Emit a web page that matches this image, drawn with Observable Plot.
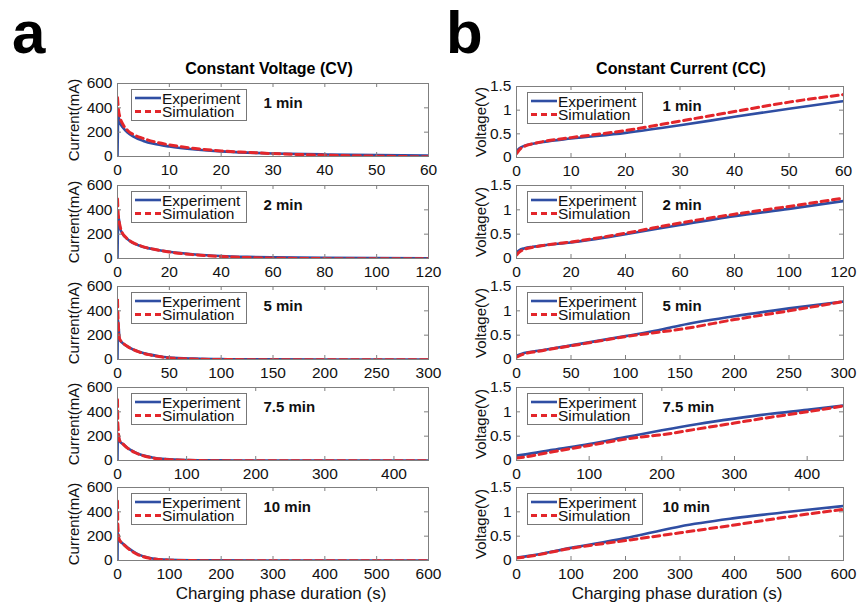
<!DOCTYPE html>
<html><head><meta charset="utf-8">
<script src="https://cdn.jsdelivr.net/npm/d3@7"></script>
<script src="https://cdn.jsdelivr.net/npm/@observablehq/plot@0.6"></script>
<style>
body{margin:0;background:#fff;}
#root{position:relative;width:860px;height:608px;overflow:hidden;font-family:"Liberation Sans",Arial,Helvetica,sans-serif;background:#fff;}
</style></head><body><div id="root"></div>
<script>
// ---------- DATA ----------
const panelLabels = ["1 min", "2 min", "5 min", "7.5 min", "10 min"];
const xMaxes = [60, 120, 300, 450, 600];
const xTicks = [
  [0, 10, 20, 30, 40, 50, 60],
  [0, 20, 40, 60, 80, 100, 120],
  [0, 50, 100, 150, 200, 250, 300],
  [0, 100, 200, 300, 400],
  [0, 100, 200, 300, 400, 500, 600]
];
const currentTicks = [0, 200, 400, 600];
const voltageTicks = [0, 0.5, 1, 1.5];
const voltageTickLabels = ["0", "0.5", "1", "1.5"];

// Constant Voltage (CV): current (mA) vs time (s)
const cv1T   = [0, 0.15, 0.5, 1, 2, 3, 5, 7, 10, 15, 20, 25, 30, 40, 50, 60];
const cv1Exp = [0, 330, 275, 240, 195, 165, 128, 104, 82, 58, 42, 32, 25, 17, 11, 8];
const cv1Sim = [485, 400, 320, 268, 212, 182, 148, 122, 96, 66, 46, 34, 24, 11, 3, -3];

const cv2T   = [0, 0.3, 1, 2, 3, 5, 7, 10, 15, 20, 30, 40, 50, 60, 80, 100, 120];
const cv2Exp = [0, 350, 250, 200, 175, 140, 118, 95, 72, 55, 33, 20, 13, 9, 5, 3, 2];
const cv2Sim = [490, 360, 265, 205, 178, 142, 120, 96, 72, 54, 30, 16, 8, 3, -1, -3, -3];

const cv5T   = [0, 0.5, 2, 5, 10, 15, 20, 30, 40, 50, 75, 100, 150, 200, 250, 300];
const cv5Exp = [0, 330, 165, 135, 105, 82, 66, 42, 27, 17, 7, 3, 1, 0, 0, 0];
const cv5Sim = [490, 340, 170, 138, 105, 82, 64, 40, 24, 13, 3, 0, -2, -2, -2, -2];

const cv75T   = [0, 0.5, 3, 8, 15, 25, 35, 50, 70, 100, 150, 200, 300, 450];
const cv75Exp = [0, 220, 160, 135, 100, 68, 45, 25, 11, 4, 1, 0, 0, 0];
const cv75Sim = [500, 300, 165, 135, 100, 66, 43, 22, 9, 2, -2, -2, -2, -2];

const cv10T   = [0, 0.5, 3, 10, 20, 30, 40, 60, 80, 100, 150, 200, 300, 400, 500, 600];
const cv10Exp = [0, 230, 170, 140, 105, 75, 50, 22, 10, 5, 2, 1, 0, 0, 0, 0];
const cv10Sim = [490, 310, 175, 140, 100, 70, 47, 20, 8, 3, -1, -2, -2, -2, -2, -2];

// Constant Current (CC): voltage (V) vs time (s)
const cc1T   = [0, 0.5, 1.5, 3, 5, 10, 20, 30, 40, 50, 60];
const cc1Exp = [0.12, 0.19, 0.25, 0.29, 0.33, 0.40, 0.52, 0.68, 0.86, 1.03, 1.19];
const cc1Sim = [0.08, 0.16, 0.24, 0.29, 0.34, 0.42, 0.57, 0.77, 0.97, 1.17, 1.33];

const cc2T   = [0, 1, 3, 6, 10, 20, 40, 60, 80, 100, 120];
const cc2Exp = [0.12, 0.17, 0.21, 0.24, 0.27, 0.33, 0.50, 0.69, 0.87, 1.02, 1.18];
const cc2Sim = [0.07, 0.13, 0.19, 0.23, 0.27, 0.34, 0.52, 0.73, 0.91, 1.07, 1.24];

const cc5T   = [0, 5, 20, 50, 100, 130, 150, 200, 250, 300];
const cc5Exp = [0.08, 0.12, 0.18, 0.29, 0.48, 0.60, 0.70, 0.89, 1.05, 1.19];
const cc5Sim = [0.05, 0.10, 0.17, 0.28, 0.47, 0.56, 0.62, 0.82, 1.00, 1.19];

const cc75T   = [0, 10, 50, 100, 150, 175, 200, 250, 300, 350, 400, 450];
const cc75Exp = [0.10, 0.12, 0.22, 0.34, 0.48, 0.55, 0.62, 0.75, 0.86, 0.96, 1.04, 1.13];
const cc75Sim = [0.05, 0.07, 0.18, 0.31, 0.44, 0.49, 0.53, 0.65, 0.77, 0.89, 1.00, 1.12];

const cc10T   = [0, 20, 100, 200, 250, 300, 400, 500, 600];
const cc10Exp = [0.06, 0.09, 0.26, 0.46, 0.58, 0.70, 0.87, 1.00, 1.12];
const cc10Sim = [0.05, 0.08, 0.25, 0.41, 0.49, 0.57, 0.73, 0.90, 1.05];

const cvSeries = [[cv1T, cv1Exp, cv1Sim], [cv2T, cv2Exp, cv2Sim], [cv5T, cv5Exp, cv5Sim], [cv75T, cv75Exp, cv75Sim], [cv10T, cv10Exp, cv10Sim]];
const ccSeries = [[cc1T, cc1Exp, cc1Sim], [cc2T, cc2Exp, cc2Sim], [cc5T, cc5Exp, cc5Sim], [cc75T, cc75Exp, cc75Sim], [cc10T, cc10Exp, cc10Sim]];

// ---------- LAYOUT / STYLE ----------
const FONT = '"Liberation Sans", Arial, Helvetica, sans-serif';
const BLUE = "#2f4ea3";
const RED = "#e3262b";
const GRAY = "#7f7f7f";
const rowTops = [83, 185, 286, 387, 487];
const rowH = 73;
const colLeft = [117, 516];
const colW = [311, 327];

const root = document.getElementById("root");

function place(el, left, top) {
  el.style.position = "absolute";
  el.style.left = left + "px";
  el.style.top = top + "px";
  root.appendChild(el);
}

function panel({left, top, w, h, xMax, ticksX, yDomain, ticksY, yFmt, series, label, ylabel, ylabelOff}) {
  const mL = 70, mR = 22, mT = 10, mB = 30;
  const [t, e, s] = series;
  const expRows = t.map((d, i) => ({t: d, v: e[i]}));
  const simRows = t.map((d, i) => ({t: d, v: s[i]}));
  const chart = Plot.plot({
    width: w + mL + mR, height: h + mT + mB,
    marginLeft: mL, marginRight: mR, marginTop: mT, marginBottom: mB,
    x: {domain: [0, xMax]},
    y: {domain: yDomain},
    style: {background: "none", overflow: "visible", fontFamily: FONT, fontSize: "15.5px", color: "#111"},
    marks: [
      Plot.line(expRows, {x: "t", y: "v", stroke: BLUE, strokeWidth: 2.6, curve: "monotone-x", clip: true}),
      Plot.line(simRows, {x: "t", y: "v", stroke: RED, strokeWidth: 3, strokeDasharray: "7,4.5", curve: "monotone-x", clip: true}),
      Plot.frame({stroke: GRAY, strokeWidth: 1}),
      Plot.ruleX(ticksX, {x: d => d, insetTop: h - 4, stroke: GRAY}),
      Plot.ruleX(ticksX, {x: d => d, insetBottom: h - 4, stroke: GRAY}),
      Plot.ruleY(ticksY, {y: d => d, insetRight: w - 4, stroke: GRAY}),
      Plot.ruleY(ticksY, {y: d => d, insetLeft: w - 4, stroke: GRAY}),
      Plot.axisX(ticksX, {tickSize: 0, tickPadding: 7, fontSize: 15.5, label: null}),
      Plot.axisY(ticksY, {tickSize: 0, tickPadding: 5, fontSize: 15.5, tickFormat: yFmt, label: null}),
      Plot.text([ylabel], {text: d => d, frameAnchor: "left", dx: -ylabelOff, rotate: -90, textAnchor: "middle", lineAnchor: "middle", fontSize: 15, fill: "#111"}),
      Plot.text([label], {text: d => d, frameAnchor: "top-left", dx: 146, dy: 14, textAnchor: "start", fontWeight: "bold", fontSize: 15, fill: "#111"})
    ]
  });
  place(chart, left - mL, top - mT);
}

function legend(left, top) {
  const w = 115, h = 31;
  const svg = d3.create("svg").attr("width", w + 2).attr("height", h + 2)
    .style("font-family", FONT).style("font-size", "15.5px");
  svg.append("rect").attr("x", 0.5).attr("y", 0.5).attr("width", w).attr("height", h)
    .attr("fill", "#fff").attr("stroke", "#777");
  const rows = [["Experiment", BLUE, null, 2.6, 9], ["Simulation", RED, "6,4", 3, 22.5]];
  for (const [txt, col, dash, sw, y] of rows) {
    const ln = svg.append("line").attr("x1", 4).attr("x2", 30).attr("y1", y).attr("y2", y)
      .attr("stroke", col).attr("stroke-width", sw);
    if (dash) ln.attr("stroke-dasharray", dash);
    svg.append("text").attr("x", 31).attr("y", y).attr("dy", "0.36em").attr("fill", "#111").text(txt);
  }
  place(svg.node(), left, top);
}

// ---------- TEXT OVERLAY ----------
const ov = d3.create("svg").attr("width", 860).attr("height", 608).style("font-family", FONT);
ov.append("text").attr("x", 12).attr("y", 53).attr("font-size", 60).attr("font-weight", "bold").text("a");
ov.append("text").attr("x", 446).attr("y", 53).attr("font-size", 60).attr("font-weight", "bold").text("b");
ov.append("text").attr("x", 269).attr("y", 68).attr("dy", "0.36em").attr("text-anchor", "middle")
  .attr("font-size", 16).attr("font-weight", "bold").text("Constant Voltage (CV)");
ov.append("text").attr("x", 681).attr("y", 68).attr("dy", "0.36em").attr("text-anchor", "middle")
  .attr("font-size", 16).attr("font-weight", "bold").text("Constant Current (CC)");
ov.append("text").attr("x", 281).attr("y", 593).attr("dy", "0.36em").attr("text-anchor", "middle")
  .attr("font-size", 17).attr("fill", "#111").text("Charging phase duration (s)");
ov.append("text").attr("x", 677).attr("y", 593).attr("dy", "0.36em").attr("text-anchor", "middle")
  .attr("font-size", 17).attr("fill", "#111").text("Charging phase duration (s)");
place(ov.node(), 0, 0);

// ---------- PANELS ----------
for (let r = 0; r < 5; r++) {
  // CV (left)
  panel({
    left: colLeft[0], top: rowTops[r], w: colW[0], h: rowH,
    xMax: xMaxes[r], ticksX: xTicks[r], yDomain: [0, 600], ticksY: currentTicks,
    yFmt: d => String(d), series: cvSeries[r], label: panelLabels[r],
    ylabel: "Current(mA)", ylabelOff: 43
  });
  legend(colLeft[0] + 14, rowTops[r] + 6);
  // CC (right)
  const topR = r === 0 ? 86 : rowTops[r];
  const hR = r === 0 ? 71 : rowH;
  panel({
    left: colLeft[1], top: topR, w: colW[1], h: hR,
    xMax: xMaxes[r], ticksX: xTicks[r], yDomain: [0, 1.5], ticksY: voltageTicks,
    yFmt: d => voltageTickLabels[voltageTicks.indexOf(d)], series: ccSeries[r], label: panelLabels[r],
    ylabel: "Voltage(V)", ylabelOff: 35
  });
  legend(colLeft[1] + 11, topR + 6);
}
</script></body></html>
